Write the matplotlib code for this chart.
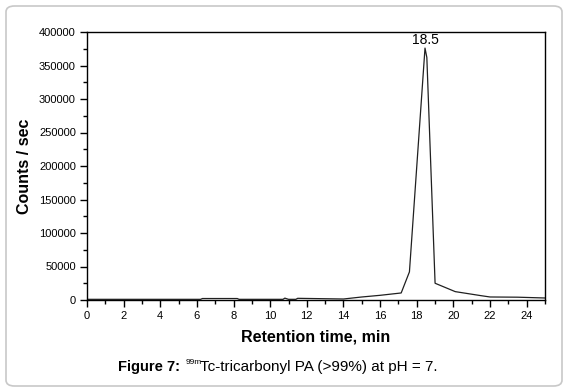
import matplotlib.pyplot as plt
from matplotlib.patches import FancyBboxPatch
from matplotlib.ticker import MultipleLocator

# chromatogram points
time_min = [0.0, 6.2, 6.3, 8.2, 8.3, 10.7, 10.8, 11.0, 11.4, 11.5, 14.0,
            15.0, 16.0, 17.15, 17.6, 18.45, 18.55, 19.0, 20.1, 21.5, 22.0,
            23.5, 25.0]
counts = [1000, 1000, 2200, 2200, 1000, 1000, 2800, 1000, 1000, 2500, 1500,
          4500, 7000, 10500, 42000, 376000, 362000, 25000, 12500, 6500, 4500,
          4200, 3000]
peak_time = 18.5
peak_label = "18.5"

plt.rcParams['font.family'] = ['Liberation Sans', 'DejaVu Sans']

fig = plt.figure(figsize=(5.69, 3.92), dpi=100)

# light rounded frame around the whole figure
frame = FancyBboxPatch((6 / 569, 6 / 392), 556 / 569, 380 / 392,
                       boxstyle="round,pad=0,rounding_size=0.015",
                       transform=fig.transFigure, facecolor='none',
                       edgecolor='#c8c8c8', linewidth=1.2, zorder=-1)
fig.patches.append(frame)

ax = fig.add_axes([87 / 569, 1 - 300 / 392, 458 / 569, 268 / 392])
ax.plot(time_min, counts, color='#202020', linewidth=0.9)

ax.set_xlim(0, 25)
ax.set_ylim(0, 400000)
ax.xaxis.set_major_locator(MultipleLocator(2))
ax.xaxis.set_minor_locator(MultipleLocator(1))
ax.yaxis.set_major_locator(MultipleLocator(50000))
ax.yaxis.set_minor_locator(MultipleLocator(25000))
ax.tick_params(which='major', direction='out', length=5, width=1,
               labelsize=8, pad=3)
ax.tick_params(which='minor', direction='out', length=3, width=1)
for s in ax.spines.values():
    s.set_linewidth(1.0)

ax.annotate(peak_label, xy=(peak_time, max(counts)), xytext=(0, 1),
            textcoords='offset points', ha='center', va='bottom',
            fontsize=10)

ax.set_xlabel('Retention time, min', fontsize=11.5, fontweight='bold',
              labelpad=6)
ax.set_ylabel('Counts / sec', fontsize=11.5, fontweight='bold', labelpad=5)

# caption
fig.text(118 / 569, 1 - 367 / 392, 'Figure 7:', fontsize=10.5,
         fontweight='bold', va='center')
fig.text(185.5 / 569, 1 - 362 / 392, '99m', fontsize=6, va='center')
fig.text(200 / 569, 1 - 367 / 392, 'Tc-tricarbonyl PA (>99%) at pH = 7.',
         fontsize=11, va='center')

plt.savefig('out.png', dpi=100)
